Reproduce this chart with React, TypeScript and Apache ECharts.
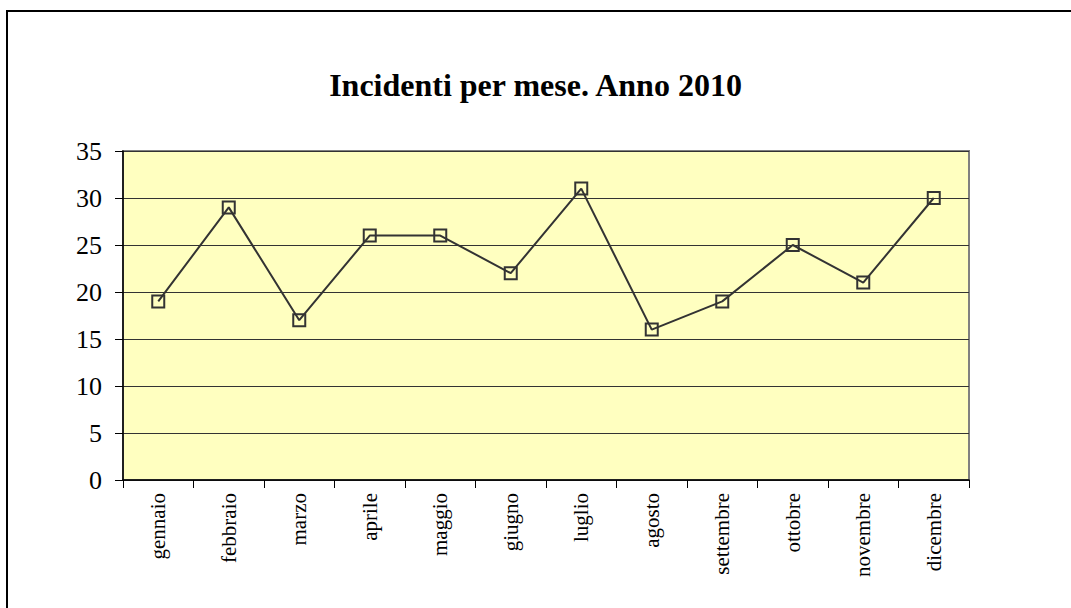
import React, { useEffect, useRef } from "react";
import * as echarts from "echarts";

const title = "Incidenti per mese. Anno 2010";
const months = [
  "gennaio", "febbraio", "marzo", "aprile", "maggio", "giugno",
  "luglio", "agosto", "settembre", "ottobre", "novembre", "dicembre",
];
const incidents = [19, 29, 17, 26, 26, 22, 31, 16, 19, 25, 21, 30];

const FONT = "'Liberation Serif', 'Times New Roman', serif";

export default function App() {
  const ref = useRef<HTMLDivElement>(null);
  useEffect(() => {
    if (!ref.current) return;
    const chart = echarts.init(ref.current, undefined, { renderer: "svg" });
    chart.setOption({
      animation: false,
      backgroundColor: "#ffffff",
      title: {
        text: title,
        left: "center",
        top: 64,
        textStyle: { fontFamily: FONT, fontSize: 32, fontWeight: "bold", color: "#000" },
      },
      graphic: [
        {
          type: "rect",
          shape: { x: 7, y: 11, width: 1200, height: 800 },
          style: { fill: "none", stroke: "#000", lineWidth: 2 },
          z: -10,
        },
      ],
      grid: {
        left: 123,
        top: 151,
        right: 102,
        bottom: 128,
        show: true,
        backgroundColor: "#FFFFC0",
        borderColor: "#808080",
        borderWidth: 2,
      },
      xAxis: {
        type: "category",
        data: months,
        boundaryGap: true,
        axisLine: { show: true, lineStyle: { color: "#000", width: 1.5 } },
        axisTick: { show: true, alignWithLabel: false, length: 8, lineStyle: { color: "#000" } },
        axisLabel: {
          rotate: 90,
          margin: 13,
          fontFamily: FONT,
          fontSize: 21,
          color: "#000",
          interval: 0,
        },
        splitLine: { show: false },
      },
      yAxis: {
        type: "value",
        min: 0,
        max: 35,
        interval: 5,
        axisLine: { show: true, lineStyle: { color: "#000", width: 1.5 } },
        axisTick: { show: true, length: 8, lineStyle: { color: "#000" } },
        axisLabel: { fontFamily: FONT, fontSize: 26, color: "#000", margin: 21 },
        splitLine: { show: true, lineStyle: { color: "#333", width: 1 } },
      },
      series: [
        {
          type: "line",
          data: incidents,
          symbol: "rect",
          symbolSize: 12,
          showSymbol: true,
          lineStyle: { color: "#333", width: 2 },
          itemStyle: { color: "rgba(0,0,0,0)", borderColor: "#333", borderWidth: 2 },
        },
      ],
    });
    return () => chart.dispose();
  }, []);
  return (
    <div
      ref={ref}
      style={{ position: "fixed", left: 0, top: 0, width: 1071, height: 608 }}
    />
  );
}
